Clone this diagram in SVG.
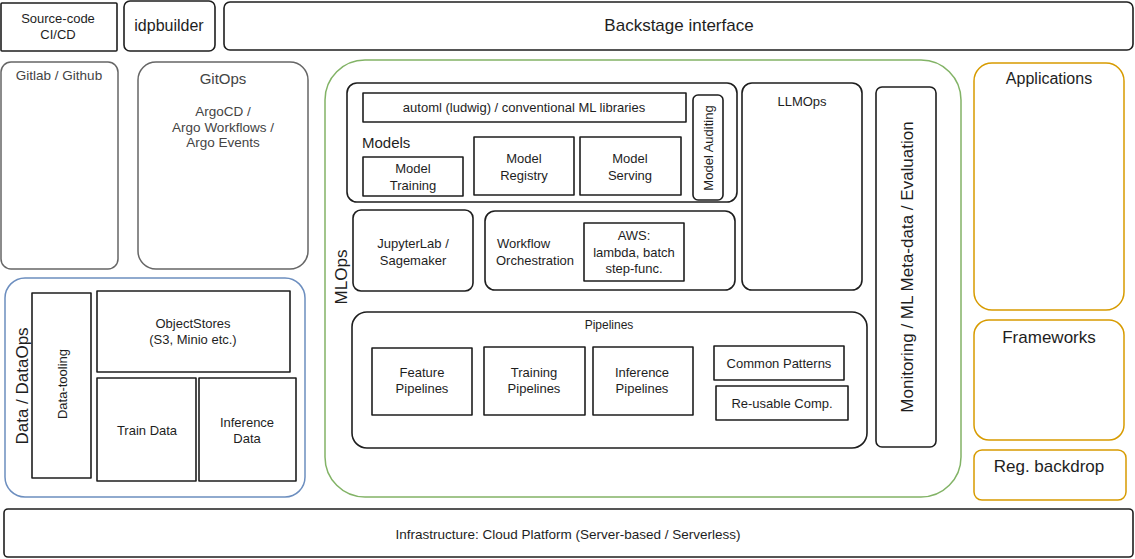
<svg xmlns="http://www.w3.org/2000/svg" width="1135" height="559" viewBox="0 0 1135 559">
<style>
.b{fill:none;stroke:#1e1e1e;stroke-width:1.6;stroke-linejoin:round}
.gr{fill:none;stroke:#666;stroke-width:1.5}
.bl{fill:none;stroke:#6c8ebf;stroke-width:1.5}
.gn{fill:none;stroke:#82b366;stroke-width:1.5}
.or{fill:none;stroke:#d79b00;stroke-width:1.5}
text{font-family:"Liberation Sans",Arial,sans-serif;fill:#1e1e1e;text-anchor:middle;dominant-baseline:central;font-size:13px}
.s12{font-size:12px}.s13{font-size:13.5px}.s14{font-size:14px}.s15{font-size:15px}.s16{font-size:16px}.s17{font-size:17px}
.gt{fill:#444}
.st{text-anchor:start}
</style>
<rect width="1135" height="559" fill="#fff"/>

<g id="source-code">
<rect class="b" x="1" y="3" width="116" height="48" rx="1"/>
<text x="58" y="18">Source-code</text>
<text x="58" y="34">CI/CD</text>
</g>
<g id="idpbuilder">
<rect class="b" x="124" y="1" width="91" height="50" rx="6"/>
<text class="s16" x="169" y="25">idpbuilder</text>
</g>
<g id="backstage">
<rect class="b" x="224" y="2" width="909" height="48" rx="6"/>
<text class="s17" x="679" y="25">Backstage interface</text>
</g>

<g id="gitlab">
<rect class="gr" x="1" y="62" width="117" height="207" rx="10"/>
<text class="s13 gt" x="59" y="75">Gitlab / Github</text>
</g>
<g id="gitops">
<rect class="gr" x="138" y="62" width="170" height="207" rx="18"/>
<text class="s15 gt" x="223" y="78">GitOps</text>
<text class="s13 gt" x="223" y="111">ArgoCD /</text>
<text class="s13 gt" x="223" y="127">Argo Workflows /</text>
<text class="s13 gt" x="223" y="142">Argo Events</text>
</g>

<g id="data">
<rect class="bl" x="5" y="278" width="300" height="219" rx="20"/>
<text class="s17" transform="translate(22,386) rotate(-90)">Data / DataOps</text>
</g>
<g id="data-tooling">
<rect class="b" x="32" y="293" width="59" height="185"/>
<text transform="translate(62,384) rotate(-90)">Data-tooling</text>
</g>
<g id="objectstores">
<rect class="b" x="97" y="291" width="193" height="81"/>
<text x="193" y="323">ObjectStores</text>
<text x="193" y="339">(S3, Minio etc.)</text>
</g>
<g id="train-data">
<rect class="b" x="97" y="378" width="99" height="103"/>
<text x="147" y="430">Train Data</text>
</g>
<g id="inference-data">
<rect class="b" x="199" y="378" width="97" height="103"/>
<text x="247" y="422">Inference</text>
<text x="247" y="438">Data</text>
</g>

<g id="mlops">
<rect class="gn" x="325" y="60" width="636" height="437" rx="40"/>
<text class="s17" transform="translate(341,277) rotate(-90)">MLOps</text>
</g>
<g id="models">
<rect class="b" x="347" y="83" width="390" height="119" rx="10"/>
<text class="s15 st" x="362" y="142">Models</text>
</g>
<g id="automl">
<rect class="b" x="363" y="93" width="323" height="29"/>
<text x="524" y="107">automl (ludwig) /  conventional ML libraries</text>
</g>
<g id="model-training">
<rect class="b" x="363" y="157" width="100" height="39"/>
<text x="413" y="168">Model</text>
<text x="413" y="185">Training</text>
</g>
<g id="model-registry">
<rect class="b" x="474" y="137" width="100" height="58"/>
<text x="524" y="158">Model</text>
<text x="524" y="175">Registry</text>
</g>
<g id="model-serving">
<rect class="b" x="580" y="137" width="101" height="58"/>
<text x="630" y="158">Model</text>
<text x="630" y="175">Serving</text>
</g>
<g id="model-auditing">
<rect class="b" x="693" y="95" width="30" height="105" rx="5"/>
<text transform="translate(708,148) rotate(-90)">Model Auditing</text>
</g>
<g id="jupyterlab">
<rect class="b" x="353" y="210" width="120" height="81" rx="8"/>
<text x="413" y="243">JupyterLab /</text>
<text x="413" y="260">Sagemaker</text>
</g>
<g id="workflow">
<rect class="b" x="485" y="211" width="250" height="79" rx="10"/>
<text class="st" x="497" y="243">Workflow</text>
<text class="st" x="496" y="260">Orchestration</text>
</g>
<g id="aws">
<rect class="b" x="584" y="223" width="100" height="58"/>
<text x="634" y="235">AWS:</text>
<text x="634" y="252">lambda, batch</text>
<text x="634" y="268">step-func.</text>
</g>
<g id="llmops">
<rect class="b" x="742" y="83" width="120" height="207" rx="10"/>
<text x="802" y="101">LLMOps</text>
</g>
<g id="monitoring">
<rect class="b" x="876" y="87" width="60" height="360" rx="6"/>
<text class="s17" transform="translate(907,267) rotate(-90)">Monitoring / ML Meta-data / Evaluation</text>
</g>
<g id="pipelines">
<rect class="b" x="352" y="312" width="515" height="136" rx="15"/>
<text class="s12" x="609" y="325">Pipelines</text>
</g>
<g id="feature-pipelines">
<rect class="b" x="372" y="348" width="100" height="67"/>
<text x="422" y="372">Feature</text>
<text x="422" y="388">Pipelines</text>
</g>
<g id="training-pipelines">
<rect class="b" x="484" y="347" width="101" height="68"/>
<text x="534" y="372">Training</text>
<text x="534" y="388">Pipelines</text>
</g>
<g id="inference-pipelines">
<rect class="b" x="593" y="347" width="100" height="68"/>
<text x="642" y="372">Inference</text>
<text x="642" y="388">Pipelines</text>
</g>
<g id="common-patterns">
<rect class="b" x="714" y="346" width="130" height="34"/>
<text x="779" y="363">Common Patterns</text>
</g>
<g id="reusable-comp">
<rect class="b" x="716" y="386" width="132" height="34"/>
<text x="782" y="403">Re-usable Comp.</text>
</g>

<g id="applications">
<rect class="or" x="974" y="63" width="150" height="247" rx="18"/>
<text class="s16" x="1049" y="78">Applications</text>
</g>
<g id="frameworks">
<rect class="or" x="974" y="320" width="150" height="120" rx="15"/>
<text class="s17" x="1049" y="337">Frameworks</text>
</g>
<g id="reg-backdrop">
<rect class="or" x="974" y="450" width="152" height="50" rx="8"/>
<text class="s17" x="1049" y="466">Reg. backdrop</text>
</g>

<g id="infrastructure">
<rect class="b" x="4" y="509" width="1129" height="48" rx="4"/>
<text class="s13" x="568" y="534">Infrastructure: Cloud Platform (Server-based / Serverless)</text>
</g>
</svg>
